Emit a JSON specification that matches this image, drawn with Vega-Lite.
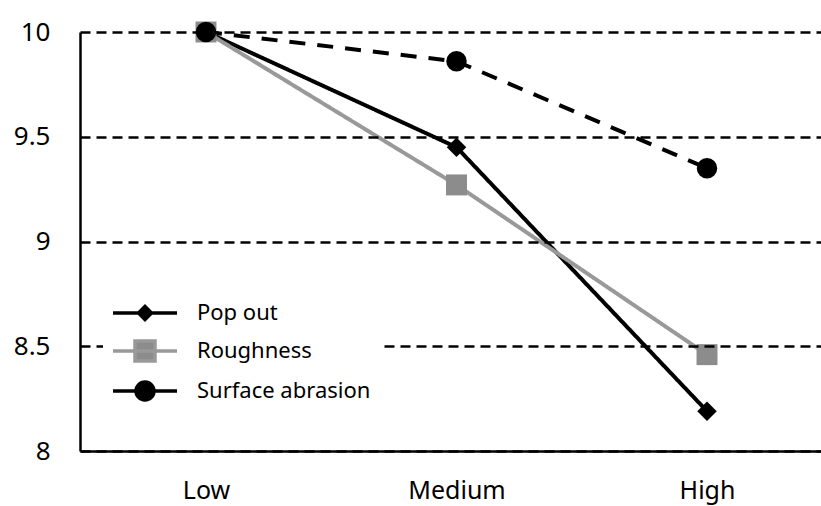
{
  "$schema": "https://vega.github.io/schema/vega-lite/v6.json",
  "width": 741,
  "height": 419,
  "autosize": {"type": "none"},
  "padding": {"left": 80, "top": 32, "right": 0, "bottom": 55},
  "background": "white",
  "config": {
    "view": {"stroke": null},
    "font": "Noto Sans",
    "axis": {"labelFont": "Noto Sans", "labelColor": "#000"},
    "legend": {"labelFont": "Noto Sans"}
  },
  "data": {
    "values": [
      {"series": "Pop out", "level": "Low", "value": 10.0},
      {"series": "Pop out", "level": "Medium", "value": 9.45},
      {"series": "Pop out", "level": "High", "value": 8.19},
      {"series": "Roughness", "level": "Low", "value": 10.0},
      {"series": "Roughness", "level": "Medium", "value": 9.27},
      {"series": "Roughness", "level": "High", "value": 8.46},
      {"series": "Surface abrasion", "level": "Low", "value": 10.0},
      {"series": "Surface abrasion", "level": "Medium", "value": 9.86},
      {"series": "Surface abrasion", "level": "High", "value": 9.35}
    ]
  },
  "encoding": {
    "x": {
      "field": "level",
      "type": "ordinal",
      "sort": ["Low", "Medium", "High"],
      "scale": {"type": "point", "padding": 0.479, "align": 0.525},
      "axis": {
        "title": null,
        "labelAngle": 0,
        "ticks": false,
        "grid": false,
        "domainColor": "#000",
        "domainWidth": 2.5,
        "labelFontSize": 25,
        "labelPadding": 27,
        "zindex": 2
      }
    },
    "y": {
      "field": "value",
      "type": "quantitative",
      "scale": {"domain": [8, 10], "zero": false, "nice": false},
      "axis": {
        "title": null,
        "values": [8, 8.5, 9, 9.5, 10],
        "format": "~g",
        "ticks": false,
        "grid": true,
        "gridColor": "#000",
        "gridDash": [10, 6],
        "gridWidth": 2.5,
        "gridOpacity": 1,
        "domainColor": "#000",
        "domainWidth": 2.5,
        "labelFontSize": 26,
        "labelPadding": 30,
        "zindex": 1
      }
    }
  },
  "layer": [
    {
      "mark": {"type": "line", "strokeWidth": 4},
      "encoding": {
        "stroke": {
          "field": "series",
          "type": "nominal",
          "scale": {"domain": ["Pop out", "Roughness", "Surface abrasion"], "range": ["#000000", "#999999", "#000000"]},
          "legend": {
            "title": null,
            "orient": "none",
            "legendX": 23,
            "legendY": 259,
            "padding": 10,
            "fillColor": "white",
            "zindex": 5,
            "labelFontSize": 22,
            "labelColor": "#000",
            "labelOffset": 40,
            "labelLimit": 400,
            "rowPadding": 7,
            "symbolSize": 400,
            "symbolOffset": 20,
            "symbolStrokeWidth": 3.5,
            "encode": {
              "symbols": {
                "update": {
                  "shape": {"signal": "datum.value === 'Pop out' ? 'M-3.2,0L3.2,0M0,-0.65L0.65,0L0,0.65L-0.65,0Z' : datum.value === 'Roughness' ? 'M-3.2,0L3.2,0M-1,-1L1,-1L1,1L-1,1Z' : 'M-3.2,0L3.2,0M0.9,0A0.9,0.9,0,1,1,-0.9,0A0.9,0.9,0,1,1,0.9,0Z'"},
                  "fill": {"signal": "datum.value === 'Roughness' ? '#8c8c8c' : '#000000'"},
                  "stroke": {"signal": "datum.value === 'Roughness' ? '#999999' : '#000000'"},
                  "strokeWidth": {"value": 3.5},
                  "opacity": {"value": 1}
                }
              }
            }
          }
        },
        "strokeDash": {
          "condition": {"test": "datum.series === 'Surface abrasion'", "value": [16, 12]},
          "value": [1, 0]
        }
      }
    },
    {
      "mark": {"type": "point", "filled": true, "opacity": 1},
      "encoding": {
        "fill": {
          "condition": {"test": "datum.series === 'Roughness'", "value": "#8c8c8c"},
          "value": "#000000"
        },
        "shape": {
          "condition": [
            {"test": "datum.series === 'Pop out'", "value": "diamond"},
            {"test": "datum.series === 'Roughness'", "value": "square"}
          ],
          "value": "circle"
        },
        "size": {
          "condition": [
            {"test": "datum.series === 'Pop out'", "value": 380},
            {"test": "datum.series === 'Roughness'", "value": 440}
          ],
          "value": 420
        }
      }
    }
  ]
}
